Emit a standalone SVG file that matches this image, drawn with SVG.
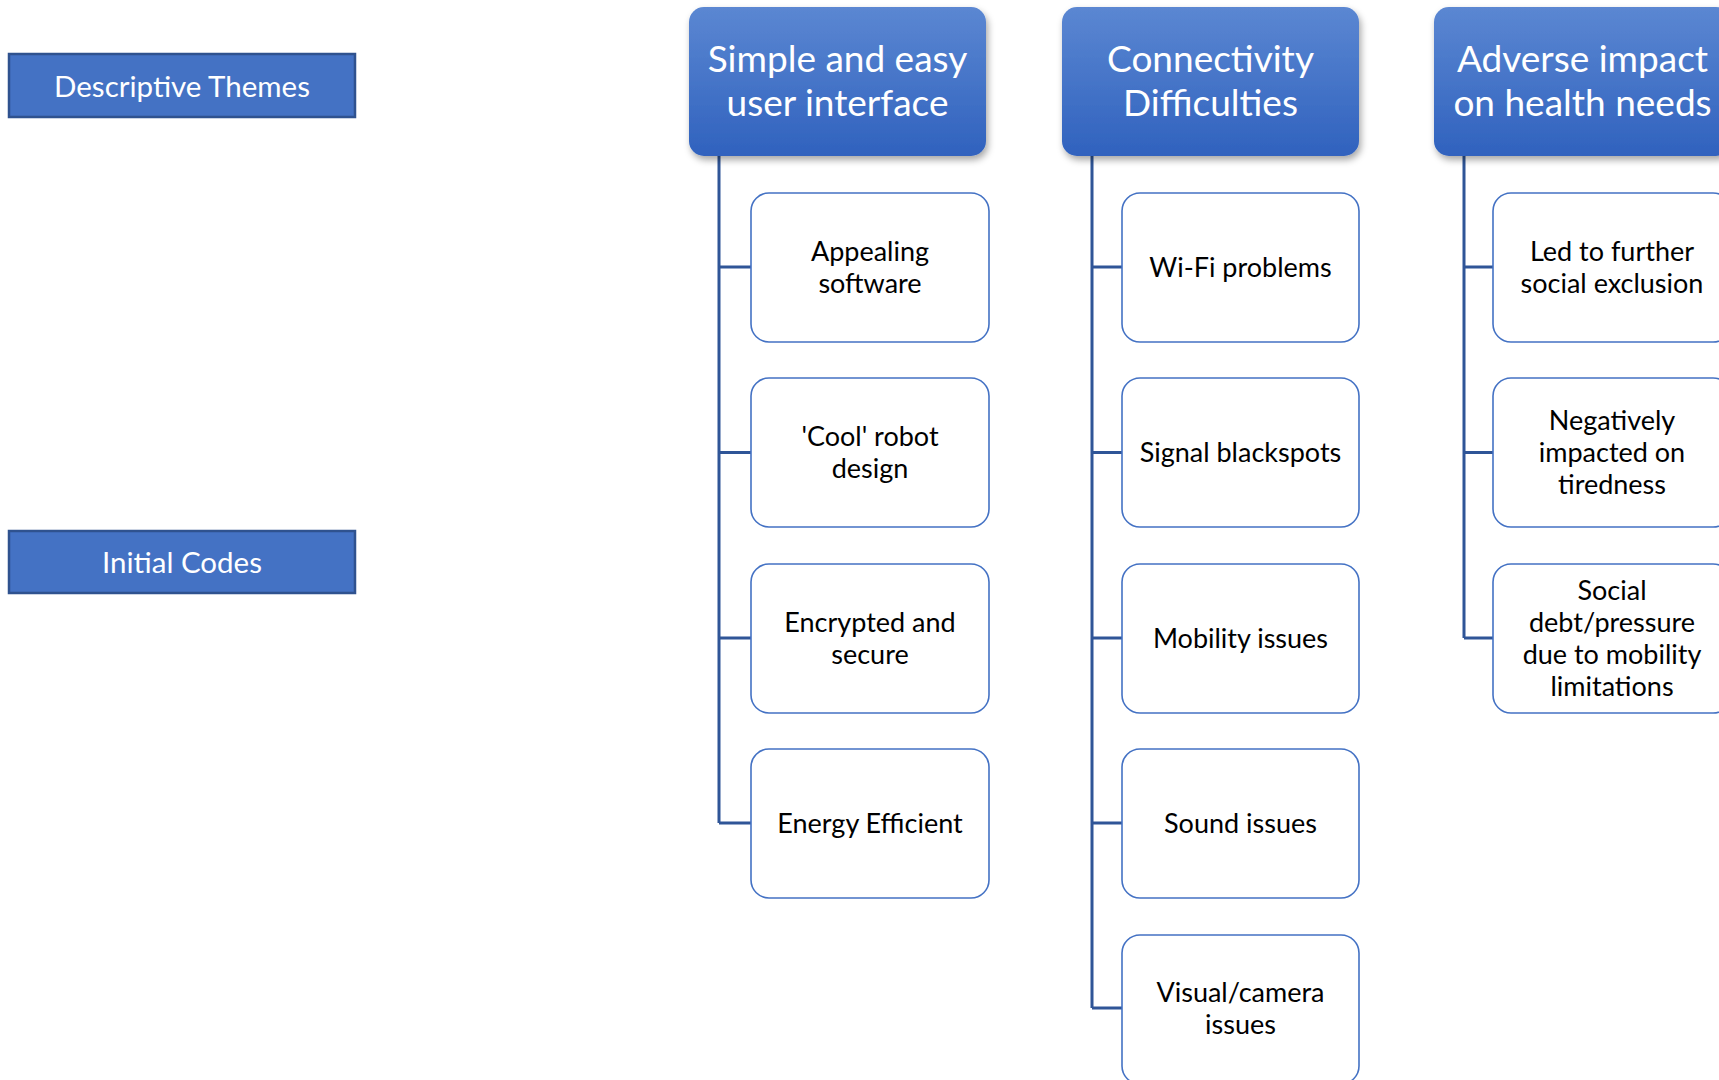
<svg xmlns="http://www.w3.org/2000/svg" width="1719" height="1080" viewBox="0 0 1719 1080">
  <defs>
    <linearGradient id="hdrGrad" x1="0" y1="0" x2="0" y2="1">
      <stop offset="0" stop-color="#5B87D2"/>
      <stop offset="1" stop-color="#3062BE"/>
    </linearGradient>
    <filter id="hdrShadow" x="-10%" y="-10%" width="125%" height="135%">
      <feDropShadow dx="2" dy="4" stdDeviation="3.5" flood-color="#000000" flood-opacity="0.35"/>
    </filter>
    <style>
      .label { fill: #4472C4; stroke: #2F528F; stroke-width: 2.5; }
      .label-text { font-family: Lato, "Noto Sans", "Liberation Sans", sans-serif; font-size: 29.5px; fill: #FFFFFF; text-anchor: middle; }
      .header { fill: url(#hdrGrad); filter: url(#hdrShadow); }
      .header-text { font-family: Lato, "Noto Sans", "Liberation Sans", sans-serif; font-size: 37px; fill: #FFFFFF; text-anchor: middle; }
      .code { fill: #FFFFFF; stroke: #4472C4; stroke-width: 1.6; }
      .code-text { font-family: Lato, "Noto Sans", "Liberation Sans", sans-serif; font-size: 27px; fill: #000000; text-anchor: middle; }
      .link { fill: none; stroke: #2F5597; stroke-width: 3; }
    </style>
  </defs>

  <rect width="1719" height="1080" fill="#FFFFFF"/>

  <!-- row labels -->
  <g id="label-themes">
    <rect class="label" x="9" y="54" width="346" height="63"/>
    <text class="label-text" x="182" y="97">Descriptive Themes</text>
  </g>
  <g id="label-codes">
    <rect class="label" x="9" y="531" width="346" height="62"/>
    <text class="label-text" x="182" y="573">Initial Codes</text>
  </g>

  <!-- connectors: trunk from each theme with a tick into every code -->
  <g id="connectors">
    <path class="link" d="M719 156 V823 M719 267 H751 M719 452.5 H751 M719 638 H751 M719 823 H751"/>
    <path class="link" d="M1092 156 V1008 M1092 267 H1122 M1092 452.5 H1122 M1092 638 H1122 M1092 823 H1122 M1092 1008 H1122"/>
    <path class="link" d="M1464 156 V638 M1464 267 H1493 M1464 452.5 H1493 M1464 638 H1493"/>
  </g>

  <!-- theme 1 -->
  <g id="theme-interface">
    <rect class="header" x="689" y="7" width="297" height="149" rx="15"/>
    <text class="header-text" x="837.5" y="72">Simple and easy</text>
    <text class="header-text" x="837.5" y="116">user interface</text>
  </g>
  <g id="code-appealing">
    <rect class="code" x="751" y="193" width="238" height="149" rx="18"/>
    <text class="code-text" x="870" y="261">Appealing</text>
    <text class="code-text" x="870" y="293">software</text>
  </g>
  <g id="code-cool">
    <rect class="code" x="751" y="378" width="238" height="149" rx="18"/>
    <text class="code-text" x="870" y="446">'Cool' robot</text>
    <text class="code-text" x="870" y="478">design</text>
  </g>
  <g id="code-encrypted">
    <rect class="code" x="751" y="564" width="238" height="149" rx="18"/>
    <text class="code-text" x="870" y="632">Encrypted and</text>
    <text class="code-text" x="870" y="664">secure</text>
  </g>
  <g id="code-energy">
    <rect class="code" x="751" y="749" width="238" height="149" rx="18"/>
    <text class="code-text" x="870" y="833">Energy Efficient</text>
  </g>

  <!-- theme 2 -->
  <g id="theme-connectivity">
    <rect class="header" x="1062" y="7" width="297" height="149" rx="15"/>
    <text class="header-text" x="1210.5" y="72">Connectivity</text>
    <text class="header-text" x="1210.5" y="116">Difficulties</text>
  </g>
  <g id="code-wifi">
    <rect class="code" x="1122" y="193" width="237" height="149" rx="18"/>
    <text class="code-text" x="1240.5" y="277">Wi-Fi problems</text>
  </g>
  <g id="code-signal">
    <rect class="code" x="1122" y="378" width="237" height="149" rx="18"/>
    <text class="code-text" x="1240.5" y="462">Signal blackspots</text>
  </g>
  <g id="code-mobility">
    <rect class="code" x="1122" y="564" width="237" height="149" rx="18"/>
    <text class="code-text" x="1240.5" y="648">Mobility issues</text>
  </g>
  <g id="code-sound">
    <rect class="code" x="1122" y="749" width="237" height="149" rx="18"/>
    <text class="code-text" x="1240.5" y="833">Sound issues</text>
  </g>
  <g id="code-visual">
    <rect class="code" x="1122" y="935" width="237" height="149" rx="18"/>
    <text class="code-text" x="1240.5" y="1002">Visual/camera</text>
    <text class="code-text" x="1240.5" y="1034">issues</text>
  </g>

  <!-- theme 3 -->
  <g id="theme-health">
    <rect class="header" x="1434" y="7" width="297" height="149" rx="15"/>
    <text class="header-text" x="1582.5" y="72">Adverse impact</text>
    <text class="header-text" x="1582.5" y="116">on health needs</text>
  </g>
  <g id="code-exclusion">
    <rect class="code" x="1493" y="193" width="238" height="149" rx="18"/>
    <text class="code-text" x="1612" y="261">Led to further</text>
    <text class="code-text" x="1612" y="293">social exclusion</text>
  </g>
  <g id="code-tiredness">
    <rect class="code" x="1493" y="378" width="238" height="149" rx="18"/>
    <text class="code-text" x="1612" y="430">Negatively</text>
    <text class="code-text" x="1612" y="462">impacted on</text>
    <text class="code-text" x="1612" y="494">tiredness</text>
  </g>
  <g id="code-debt">
    <rect class="code" x="1493" y="564" width="238" height="149" rx="18"/>
    <text class="code-text" x="1612" y="600">Social</text>
    <text class="code-text" x="1612" y="632">debt/pressure</text>
    <text class="code-text" x="1612" y="664">due to mobility</text>
    <text class="code-text" x="1612" y="696">limitations</text>
  </g>
</svg>
